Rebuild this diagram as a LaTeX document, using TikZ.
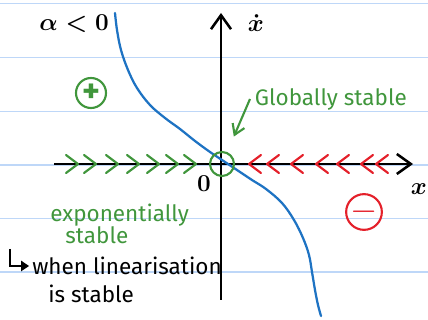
\documentclass[tikz,border=0pt]{standalone}
\usepackage{fontspec}
\setmainfont{Fira Sans}
\usepackage{xcolor}
\usetikzlibrary{arrows.meta,positioning}

\definecolor{penGreen}{RGB}{64,150,60}
\definecolor{penRed}{RGB}{228,32,42}
\definecolor{penBlue}{RGB}{30,115,195}
\definecolor{paperBlue}{RGB}{190,215,248}

\begin{document}
\begin{tikzpicture}[
    x=0.025cm, y=-0.025cm,
    ruled/.style={draw=paperBlue, line width=1.3pt},
    axis/.style={line width=1.8pt, -{Straight Barb[length=0.35cm,width=0.5cm]}},
    gchev/.style={draw=penGreen, line width=1.5pt, line cap=round, line join=round},
    rchev/.style={draw=penRed, line width=1.5pt, line cap=round, line join=round},
    sign/.style={circle, line width=1.5pt, minimum size=0.75cm, inner sep=0pt, font=\fontsize{24}{26}\selectfont\bfseries},
    gtext/.style={text=penGreen, font=\fontsize{16}{18}\selectfont},
    btext/.style={text=black, font=\fontsize{16}{18}\selectfont},
    mlabel/.style={inner sep=1pt, font=\fontsize{18}{20}\selectfont\boldmath}
    ]

    \useasboundingbox (0,0) rectangle (428,320);

    % Ruled paper
    \foreach \ry in {3.5,57.5,111.5,165,218.5,272}
        \draw[ruled] (0,\ry) -- (428,\ry);

    % Axes
    \coordinate (xleft) at (54,164);
    \coordinate (xright) at (413,164);
    \coordinate (ybottom) at (221,300);
    \coordinate (ytop) at (221,13);
    \draw[axis] (xleft) -- (xright);
    \draw[axis] (ybottom) -- (ytop);

    % Axis labels
    \node[mlabel] (xdot) at (256,23) {$\dot{x}$};
    \node[mlabel] (xlab) at (419,189) {$x$};
    \node[mlabel] (zero) at (204,184) {$0$};
    \node[mlabel] (alpha) at (74,24) {$\alpha<0$};

    % Flow direction on the x axis
    \foreach \c in {72,90,112,133,153,172,190}
        \draw[gchev] ({\c-6},155) -- ({\c+6},164) -- ({\c-6},173);
    \foreach \c in {255,273,297,322,343,367,382}
        \draw[rchev] ({\c+6},155) -- ({\c-6},164) -- ({\c+6},173);

    % Curve xdot = f(x)
    \draw[penBlue, line width=1.6pt, line cap=round] plot[smooth, tension=0.6] coordinates {
        (115,13) (117,30) (121,50) (128,70) (137,88) (150,105) (165,118)
        (180,129) (195,141) (210,152) (222,160) (237,170) (252,180)
        (266,189) (282,203) (294,220) (303,238) (309,255) (312,272)
        (315,290) (318,305) (321,316)};

    % Signs of f
    \node[sign, draw=penGreen, text=penGreen] (plus) at (91,93) {+};
    \node[sign, draw=penRed, text=penRed, minimum size=0.8cm] (minus) at (364,212) {$-$};

    % Equilibrium
    \node[circle, draw=penGreen, line width=1.5pt, minimum size=0.6cm] (eq) at (222,164) {};
    \node[gtext, anchor=west] (glob) at (250,99) {Globally stable};
    \draw[draw=penGreen, line width=1.5pt, -{Straight Barb[length=0.25cm,width=0.32cm]}, shorten >=0.42cm] (glob.west) -- (eq);

    % Notes
    \node[gtext, anchor=west, align=left, inner sep=0pt] (expo) at (50,224) {exponentially\\[-2pt]\hspace*{0.38cm}stable};
    \node[btext, anchor=west, inner sep=0pt] (when) at (32,266) {when linearisation};
    \node[btext, anchor=west, inner sep=0pt] (isst) at (48,294) {is stable};
    \coordinate (hook) at (10,249);
    \draw[line width=1.6pt, -{Triangle[length=0.2cm,width=0.25cm]}] (hook) |- ([xshift=-2pt]when.west);

\end{tikzpicture}
\end{document}
